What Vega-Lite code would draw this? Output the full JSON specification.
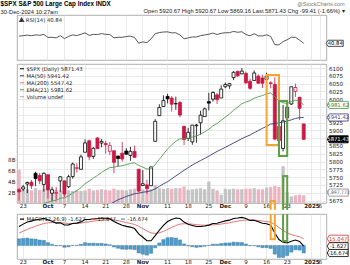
{
"$schema": "https://vega.github.io/schema/vega-lite/v6.json",
"padding": {"left": 0, "top": 1, "right": 1, "bottom": 0},
"background": "white",
"spacing": 0,
"resolve": {"scale": {"color": "independent"}, "legend": {"color": "independent"}},
"title": {"text": "$SPX S&P 500 Large Cap Index INDX", "subtitle": "30-Dec-2024 10:27am", "anchor": "start", "font": "Liberation Sans", "fontSize": 6.3, "fontWeight": "bold", "color": "#000", "subtitleFont": "Liberation Sans", "subtitleFontSize": 5.8, "subtitleColor": "#222", "subtitlePadding": 1, "offset": -13},
"datasets": {
"spx": [
{"d":"2024-09-20","o":5709.96,"h":5715.14,"l":5674.49,"c":5702.55,"p":5713.64,"v":6.0,"e":5609.3,"m":5517.9,"r":58.3,"md":42.4,"sg":27.6,"hs":14.8},
{"d":"2024-09-23","o":5711.90,"h":5725.36,"l":5704.94,"c":5718.57,"p":5702.55,"v":2.4,"e":5619.3,"m":5520.0,"r":59.6,"md":47.5,"sg":31.6,"hs":15.9},
{"d":"2024-09-24","o":5727.81,"h":5735.32,"l":5698.99,"c":5732.93,"p":5718.57,"v":2.5,"e":5629.6,"m":5522.0,"r":60.7,"md":52.1,"sg":35.7,"hs":16.4},
{"d":"2024-09-25","o":5733.65,"h":5741.03,"l":5712.06,"c":5722.26,"p":5732.93,"v":2.3,"e":5638.0,"m":5523.1,"r":59.4,"md":54.2,"sg":39.4,"hs":14.8},
{"d":"2024-09-26","o":5762.22,"h":5767.37,"l":5721.01,"c":5745.37,"p":5722.26,"v":2.7,"e":5647.8,"m":5526.2,"r":61.4,"md":57.1,"sg":42.9,"hs":14.2},
{"d":"2024-09-27","o":5755.36,"h":5763.78,"l":5727.34,"c":5738.17,"p":5745.37,"v":2.4,"e":5656.0,"m":5530.1,"r":60.4,"md":58.2,"sg":46.0,"hs":12.2},
{"d":"2024-09-30","o":5726.52,"h":5765.14,"l":5703.53,"c":5762.48,"p":5738.17,"v":2.6,"e":5665.7,"m":5535.3,"r":62.6,"md":60.3,"sg":48.9,"hs":11.4},
{"d":"2024-10-01","o":5757.73,"h":5757.73,"l":5681.28,"c":5708.75,"p":5762.48,"v":2.9,"e":5669.6,"m":5538.2,"r":55.3,"md":57.0,"sg":50.5,"hs":6.5},
{"d":"2024-10-02","o":5698.19,"h":5719.14,"l":5674.00,"c":5709.54,"p":5708.75,"v":2.3,"e":5673.2,"m":5541.2,"r":55.4,"md":53.7,"sg":51.1,"hs":2.6},
{"d":"2024-10-03","o":5698.56,"h":5718.78,"l":5677.89,"c":5699.94,"p":5709.54,"v":2.4,"e":5675.6,"m":5546.7,"r":54.1,"md":49.8,"sg":50.8,"hs":-1.0},
{"d":"2024-10-04","o":5737.80,"h":5753.92,"l":5702.83,"c":5751.07,"p":5699.94,"v":2.3,"e":5682.5,"m":5553.7,"r":59.5,"md":50.3,"sg":50.7,"hs":-0.4},
{"d":"2024-10-07","o":5737.80,"h":5739.34,"l":5686.85,"c":5695.94,"p":5751.07,"v":2.3,"e":5683.7,"m":5558.5,"r":52.3,"md":45.7,"sg":49.7,"hs":-4.0},
{"d":"2024-10-08","o":5719.14,"h":5757.60,"l":5714.56,"c":5751.13,"p":5695.94,"v":2.3,"e":5689.8,"m":5564.2,"r":57.8,"md":45.9,"sg":48.9,"hs":-3.0},
{"d":"2024-10-09","o":5751.80,"h":5796.80,"l":5745.02,"c":5792.04,"p":5751.13,"v":2.2,"e":5699.1,"m":5571.3,"r":61.4,"md":48.9,"sg":48.9,"hs":0.0},
{"d":"2024-10-10","o":5778.36,"h":5795.03,"l":5764.76,"c":5780.05,"p":5792.04,"v":2.3,"e":5706.5,"m":5576.5,"r":59.8,"md":49.7,"sg":49.1,"hs":0.6},
{"d":"2024-10-11","o":5775.09,"h":5822.13,"l":5775.09,"c":5815.03,"p":5780.05,"v":2.2,"e":5716.4,"m":5583.9,"r":62.8,"md":52.5,"sg":49.8,"hs":2.7},
{"d":"2024-10-14","o":5829.81,"h":5871.41,"l":5829.81,"c":5859.85,"p":5815.03,"v":2.3,"e":5729.4,"m":5594.1,"r":66.3,"md":57.8,"sg":51.4,"hs":6.4},
{"d":"2024-10-15","o":5866.74,"h":5870.36,"l":5804.48,"c":5815.26,"p":5859.85,"v":2.6,"e":5737.2,"m":5606.7,"r":60.2,"md":57.7,"sg":52.7,"hs":5.0},
{"d":"2024-10-16","o":5816.58,"h":5846.52,"l":5808.34,"c":5842.47,"p":5815.26,"v":2.3,"e":5746.8,"m":5618.8,"r":62.5,"md":59.2,"sg":54.0,"hs":5.2},
{"d":"2024-10-17","o":5875.62,"h":5878.46,"l":5840.25,"c":5841.47,"p":5842.47,"v":2.4,"e":5755.4,"m":5631.6,"r":62.4,"md":59.5,"sg":55.1,"hs":4.4},
{"d":"2024-10-18","o":5859.43,"h":5872.17,"l":5846.11,"c":5864.67,"p":5841.47,"v":2.5,"e":5765.3,"m":5642.5,"r":64.4,"md":61.0,"sg":56.3,"hs":4.7},
{"d":"2024-10-21","o":5857.82,"h":5866.92,"l":5824.80,"c":5853.98,"p":5864.67,"v":2.4,"e":5773.4,"m":5652.7,"r":62.7,"md":60.6,"sg":57.2,"hs":3.4},
{"d":"2024-10-22","o":5832.70,"h":5863.04,"l":5821.17,"c":5851.20,"p":5853.98,"v":2.3,"e":5780.5,"m":5662.9,"r":62.3,"md":59.3,"sg":57.6,"hs":1.7},
{"d":"2024-10-23","o":5834.50,"h":5834.85,"l":5762.41,"c":5797.42,"p":5851.20,"v":2.6,"e":5782.0,"m":5670.2,"r":54.2,"md":53.3,"sg":56.7,"hs":-3.4},
{"d":"2024-10-24","o":5817.80,"h":5817.80,"l":5784.92,"c":5809.86,"p":5797.42,"v":2.4,"e":5784.5,"m":5677.3,"r":55.6,"md":49.0,"sg":55.2,"hs":-6.2},
{"d":"2024-10-25","o":5826.75,"h":5862.82,"l":5799.98,"c":5808.12,"p":5809.86,"v":2.4,"e":5786.6,"m":5682.6,"r":55.4,"md":44.9,"sg":53.1,"hs":-8.2},
{"d":"2024-10-28","o":5833.93,"h":5842.92,"l":5823.08,"c":5823.52,"p":5808.12,"v":2.3,"e":5790.0,"m":5688.0,"r":57.3,"md":42.5,"sg":51.0,"hs":-8.5},
{"d":"2024-10-29","o":5819.68,"h":5847.19,"l":5802.19,"c":5832.92,"p":5823.52,"v":2.5,"e":5793.9,"m":5692.5,"r":58.4,"md":40.9,"sg":49.0,"hs":-8.1},
{"d":"2024-10-30","o":5832.65,"h":5850.94,"l":5811.28,"c":5813.67,"p":5832.92,"v":2.6,"e":5795.7,"m":5696.8,"r":55.1,"md":37.6,"sg":46.7,"hs":-9.1},
{"d":"2024-10-31","o":5775.34,"h":5775.34,"l":5703.22,"c":5705.45,"p":5813.67,"v":3.0,"e":5787.5,"m":5698.5,"r":41.0,"md":25.9,"sg":42.5,"hs":-16.6},
{"d":"2024-11-01","o":5723.22,"h":5772.52,"l":5723.22,"c":5728.80,"p":5705.45,"v":2.5,"e":5782.2,"m":5701.7,"r":44.3,"md":18.3,"sg":37.7,"hs":-19.4},
{"d":"2024-11-04","o":5725.15,"h":5741.43,"l":5696.51,"c":5712.69,"p":5728.80,"v":2.4,"e":5775.9,"m":5703.2,"r":42.5,"md":10.9,"sg":32.3,"hs":-21.4},
{"d":"2024-11-05","o":5722.43,"h":5783.44,"l":5722.10,"c":5782.76,"p":5712.69,"v":2.5,"e":5776.5,"m":5706.6,"r":51.6,"md":10.5,"sg":28.0,"hs":-17.5},
{"d":"2024-11-06","o":5864.89,"h":5936.14,"l":5864.89,"c":5929.04,"p":5782.76,"v":3.3,"e":5790.4,"m":5712.6,"r":64.3,"md":21.8,"sg":26.8,"hs":-5.0},
{"d":"2024-11-07","o":5947.21,"h":5983.84,"l":5947.21,"c":5973.10,"p":5929.04,"v":2.7,"e":5807.0,"m":5720.3,"r":67.1,"md":33.9,"sg":28.2,"hs":5.7},
{"d":"2024-11-08","o":5976.76,"h":6012.45,"l":5976.76,"c":5995.54,"p":5973.10,"v":2.6,"e":5824.1,"m":5728.3,"r":68.4,"md":44.7,"sg":31.5,"hs":13.2},
{"d":"2024-11-11","o":6008.86,"h":6017.31,"l":5986.69,"c":6001.35,"p":5995.54,"v":2.7,"e":5840.2,"m":5735.4,"r":68.8,"md":53.2,"sg":35.8,"hs":17.4},
{"d":"2024-11-12","o":6003.60,"h":6009.92,"l":5960.08,"c":5983.99,"p":6001.35,"v":2.6,"e":5853.3,"m":5744.5,"r":66.4,"md":57.9,"sg":40.2,"hs":17.7},
{"d":"2024-11-13","o":5985.75,"h":6008.19,"l":5965.91,"c":5985.38,"p":5983.99,"v":2.7,"e":5865.3,"m":5753.8,"r":66.5,"md":61.0,"sg":44.4,"hs":16.6},
{"d":"2024-11-14","o":5989.58,"h":5993.88,"l":5942.28,"c":5949.17,"p":5985.38,"v":2.7,"e":5872.9,"m":5762.8,"r":61.3,"md":59.9,"sg":47.5,"hs":12.4},
{"d":"2024-11-15","o":5912.79,"h":5915.26,"l":5853.01,"c":5870.62,"p":5949.17,"v":3.0,"e":5872.7,"m":5772.0,"r":51.8,"md":52.0,"sg":48.4,"hs":3.6},
{"d":"2024-11-18","o":5874.17,"h":5908.12,"l":5865.95,"c":5893.62,"p":5870.62,"v":2.4,"e":5874.6,"m":5780.5,"r":54.0,"md":47.1,"sg":48.1,"hs":-1.0},
{"d":"2024-11-19","o":5863.04,"h":5917.00,"l":5853.86,"c":5916.98,"p":5893.62,"v":2.5,"e":5878.5,"m":5788.9,"r":56.3,"md":44.6,"sg":47.4,"hs":-2.8},
{"d":"2024-11-20","o":5914.95,"h":5920.67,"l":5860.58,"c":5917.11,"p":5916.98,"v":2.6,"e":5882.0,"m":5796.2,"r":56.3,"md":42.1,"sg":46.3,"hs":-4.2},
{"d":"2024-11-21","o":5924.37,"h":5963.32,"l":5885.71,"c":5948.71,"p":5917.11,"v":2.7,"e":5888.1,"m":5803.2,"r":59.4,"md":42.2,"sg":45.5,"hs":-3.3},
{"d":"2024-11-22","o":5944.36,"h":5972.90,"l":5944.36,"c":5969.34,"p":5948.71,"v":2.5,"e":5895.5,"m":5810.1,"r":61.3,"md":43.4,"sg":45.1,"hs":-1.7},
{"d":"2024-11-25","o":5992.28,"h":6020.75,"l":5963.91,"c":5987.37,"p":5969.34,"v":3.9,"e":5903.9,"m":5817.2,"r":62.9,"md":45.3,"sg":45.1,"hs":0.2},
{"d":"2024-11-26","o":6000.03,"h":6025.42,"l":5992.27,"c":6021.63,"p":5987.37,"v":2.6,"e":5914.6,"m":5824.9,"r":65.9,"md":49.0,"sg":45.9,"hs":3.1},
{"d":"2024-11-27","o":6014.11,"h":6020.16,"l":5984.87,"c":5998.74,"p":6021.63,"v":2.3,"e":5922.2,"m":5832.5,"r":62.3,"md":49.5,"sg":46.6,"hs":2.9},
{"d":"2024-11-29","o":6003.98,"h":6044.17,"l":6003.98,"c":6032.38,"p":5998.74,"v":1.5,"e":5932.2,"m":5838.9,"r":65.3,"md":52.1,"sg":47.7,"hs":4.4},
{"d":"2024-12-02","o":6040.11,"h":6053.58,"l":6035.33,"c":6047.15,"p":6032.38,"v":2.6,"e":5942.7,"m":5845.8,"r":66.6,"md":54.7,"sg":49.1,"hs":5.6},
{"d":"2024-12-03","o":6042.97,"h":6052.59,"l":6033.39,"c":6049.88,"p":6047.15,"v":2.5,"e":5952.4,"m":5852.4,"r":66.8,"md":56.3,"sg":50.5,"hs":5.8},
{"d":"2024-12-04","o":6069.39,"h":6089.84,"l":6061.06,"c":6086.49,"p":6049.88,"v":2.6,"e":5964.6,"m":5859.5,"r":69.9,"md":59.9,"sg":52.4,"hs":7.5},
{"d":"2024-12-05","o":6089.03,"h":6092.35,"l":6070.95,"c":6075.11,"p":6086.49,"v":2.5,"e":5974.6,"m":5866.5,"r":67.8,"md":61.0,"sg":54.1,"hs":6.9},
{"d":"2024-12-06","o":6081.38,"h":6099.97,"l":6079.98,"c":6090.27,"p":6075.11,"v":2.5,"e":5985.1,"m":5873.4,"r":69.1,"md":62.4,"sg":55.8,"hs":6.6},
{"d":"2024-12-09","o":6083.01,"h":6088.51,"l":6048.63,"c":6052.85,"p":6090.27,"v":2.6,"e":5991.3,"m":5879.7,"r":62.2,"md":59.9,"sg":56.6,"hs":3.3},
{"d":"2024-12-10","o":6057.59,"h":6065.40,"l":6029.89,"c":6034.91,"p":6052.85,"v":2.6,"e":5995.3,"m":5885.2,"r":59.2,"md":55.8,"sg":56.4,"hs":-0.6},
{"d":"2024-12-11","o":6060.16,"h":6092.59,"l":6060.16,"c":6084.19,"p":6034.91,"v":2.7,"e":6003.4,"m":5892.7,"r":64.4,"md":55.9,"sg":56.3,"hs":-0.4},
{"d":"2024-12-12","o":6074.29,"h":6079.68,"l":6051.25,"c":6051.25,"p":6084.19,"v":2.5,"e":6007.8,"m":5899.5,"r":59.0,"md":52.7,"sg":55.6,"hs":-2.9},
{"d":"2024-12-13","o":6068.17,"h":6078.58,"l":6035.77,"c":6051.09,"p":6051.25,"v":2.5,"e":6011.7,"m":5906.5,"r":58.9,"md":49.6,"sg":54.4,"hs":-4.8},
{"d":"2024-12-16","o":6063.79,"h":6085.19,"l":6059.14,"c":6074.08,"p":6051.09,"v":2.8,"e":6017.4,"m":5913.0,"r":61.5,"md":48.4,"sg":53.2,"hs":-4.8},
{"d":"2024-12-17","o":6052.55,"h":6057.68,"l":6035.19,"c":6050.61,"p":6074.08,"v":2.9,"e":6020.4,"m":5920.1,"r":57.5,"md":45.0,"sg":51.6,"hs":-6.6},
{"d":"2024-12-18","o":6047.65,"h":6070.67,"l":5867.79,"c":5872.16,"p":6050.61,"v":3.1,"e":6006.9,"m":5922.5,"r":37.5,"md":27.6,"sg":46.8,"hs":-19.2},
{"d":"2024-12-19","o":5912.71,"h":5935.52,"l":5866.07,"c":5867.08,"p":5872.16,"v":2.9,"e":5994.2,"m":5924.0,"r":37.1,"md":13.3,"sg":40.1,"hs":-26.8},
{"d":"2024-12-20","o":5842.00,"h":5982.06,"l":5832.30,"c":5930.85,"p":5867.08,"v":6.7,"e":5988.4,"m":5927.0,"r":45.0,"md":7.0,"sg":33.5,"hs":-26.5},
{"d":"2024-12-23","o":5940.25,"h":5978.25,"l":5902.57,"c":5974.07,"p":5930.85,"v":2.0,"e":5987.1,"m":5930.2,"r":49.6,"md":5.5,"sg":27.9,"hs":-22.4},
{"d":"2024-12-24","o":5984.74,"h":6040.10,"l":5981.44,"c":6040.04,"p":5974.07,"v":1.2,"e":5991.9,"m":5933.8,"r":55.6,"md":9.4,"sg":24.2,"hs":-14.8},
{"d":"2024-12-26","o":6024.97,"h":6049.75,"l":6007.37,"c":6037.59,"p":6040.04,"v":1.4,"e":5996.1,"m":5938.3,"r":55.4,"md":12.2,"sg":21.8,"hs":-9.6},
{"d":"2024-12-27","o":6006.17,"h":6006.17,"l":5932.95,"c":5970.84,"p":6037.59,"v":1.5,"e":5993.8,"m":5940.8,"r":48.5,"md":8.9,"sg":19.2,"hs":-10.3},
{"d":"2024-12-30","o":5920.67,"h":5920.67,"l":5869.16,"c":5871.43,"p":5970.84,"v":1.4,"e":5981.62,"m":5941.42,"r":40.84,"md":-1.627,"sg":15.047,"hs":-16.674}
],
"boxes": [
{"d":"2024-12-16","d2":"2024-12-19","lo":5853,"hi":6078,"g":1},
{"d":"2024-12-19","d2":"2024-12-23","lo":5818,"hi":5994,"g":2}
],
"vboxes": [
{"d":"2024-12-17","d2":"2024-12-18","lo":-1.25,"hi":0.36,"g":1},
{"d":"2024-12-20","d2":"2024-12-23","lo":-1.25,"hi":4.9,"g":2}
],
"mboxes": [
{"d":"2024-12-17","d2":"2024-12-18","lo":14,"hi":70,"g":1},
{"d":"2024-12-20","d2":"2024-12-23","lo":10,"hi":70,"g":2}
],
"ptags": [
{"d":"2024-12-30","v":5981.62,"t":"5981.62","k":"e"},
{"d":"2024-12-30","v":5941.42,"t":"5941.42","k":"m"},
{"d":"2024-12-30","v":5871.43,"t":"5871.43","k":"c"}
],
"vtags": [{"d":"2024-12-30","v":1.9,"t":"1,897,772"}],
"rtags": [{"d":"2024-12-30","v":40.84,"t":"40.84"}],
"mtags": [
{"d":"2024-12-30","v":15.047,"t":"15.047","k":"s"},
{"d":"2024-12-30","v":-1.627,"t":"-1.627","k":"m"},
{"d":"2024-12-30","v":-16.674,"t":"-16.674","k":"h"}
]
},
"data": {"name": "spx"},
"vconcat": [
{
"width": 309.4, "height": 45,
"title": {"text": "@StockCharts.com", "subtitle": "Open 5920.67 High 5920.67 Low 5869.16 Last 5871.43 Chg -99.41 (-1.66%) ▾", "anchor": "end", "font": "Liberation Sans", "fontSize": 5.5, "fontWeight": "normal", "color": "#777", "subtitleFont": "Liberation Sans", "subtitleFontSize": 5.8, "subtitleColor": "#222", "subtitlePadding": 1, "offset": 1},
"encoding": {"x": {"field": "d", "type": "ordinal", "scale": {"type": "band", "paddingInner": 0, "paddingOuter": 0, "domain": ["2024-09-20","2024-09-23","2024-09-24","2024-09-25","2024-09-26","2024-09-27","2024-09-30","2024-10-01","2024-10-02","2024-10-03","2024-10-04","2024-10-07","2024-10-08","2024-10-09","2024-10-10","2024-10-11","2024-10-14","2024-10-15","2024-10-16","2024-10-17","2024-10-18","2024-10-21","2024-10-22","2024-10-23","2024-10-24","2024-10-25","2024-10-28","2024-10-29","2024-10-30","2024-10-31","2024-11-01","2024-11-04","2024-11-05","2024-11-06","2024-11-07","2024-11-08","2024-11-11","2024-11-12","2024-11-13","2024-11-14","2024-11-15","2024-11-18","2024-11-19","2024-11-20","2024-11-21","2024-11-22","2024-11-25","2024-11-26","2024-11-27","2024-11-29","2024-12-02","2024-12-03","2024-12-04","2024-12-05","2024-12-06","2024-12-09","2024-12-10","2024-12-11","2024-12-12","2024-12-13","2024-12-16","2024-12-17","2024-12-18","2024-12-19","2024-12-20","2024-12-23","2024-12-24","2024-12-26","2024-12-27","2024-12-30","2024-12-31","2025-01-02","2025-01-03","2025-01-06","2025-01-07"]},
  "axis": {"values": ["2024-09-23","2024-10-01","2024-10-07","2024-10-14","2024-10-21","2024-10-28","2024-11-01","2024-11-11","2024-11-18","2024-11-25","2024-12-02","2024-12-09","2024-12-16","2024-12-23","2025-01-02","2025-01-06"], "labels": false, "grid": true, "title": null, "minExtent": 2.5}}},
"layer": [
{"mark": {"type": "line", "strokeWidth": 0.9, "clip": true},
 "encoding": {"y": {"field": "r", "type": "quantitative", "scale": {"domain": [0, 110], "nice": false},
   "axis": {"orient": "right", "values": [10, 30, 50, 70, 90], "grid": true, "title": null,
     "gridColor": {"condition": {"test": "datum.value==70||datum.value==30||datum.value==50", "value": "#8c8c8c"}, "value": "#e0e0e0"},
     "gridDash": {"condition": {"test": "datum.value==50", "value": [2, 2]}, "value": []}}},
  "color": {"datum": "RSI(14) 40.84", "scale": {"domain": ["RSI(14) 40.84"], "range": ["#444444"]},
   "legend": {"title": null, "orient": "top-left", "symbolType": "triangle-up", "symbolSize": 14, "symbolFillColor": "#000"}}}},
{"data": {"name": "rtags"},
 "mark": {"type": "point", "shape": "M-1,0L-0.78,-0.36L1,-0.36L1,0.36L-0.78,0.36Z", "size": 290, "filled": true, "fill": "#fff", "stroke": "#000", "strokeWidth": 0.7, "opacity": 1, "xOffset": 31},
 "encoding": {"y": {"field": "v", "type": "quantitative", "scale": {"domain": [0, 110], "nice": false}, "axis": null}}},
{"data": {"name": "rtags"},
 "mark": {"type": "text", "dx": 31.5, "fontSize": 5.3, "font": "DejaVu Sans", "fill": "#000", "align": "center", "baseline": "middle"},
 "encoding": {"y": {"field": "v", "type": "quantitative", "scale": {"domain": [0, 110], "nice": false}, "axis": null}, "text": {"field": "t"}}}
]
},
{
"width": 309.4, "height": 139,
"encoding": {"x": {"field": "d", "type": "ordinal", "scale": {"type": "band", "paddingInner": 0, "paddingOuter": 0, "domain": ["2024-09-20","2024-09-23","2024-09-24","2024-09-25","2024-09-26","2024-09-27","2024-09-30","2024-10-01","2024-10-02","2024-10-03","2024-10-04","2024-10-07","2024-10-08","2024-10-09","2024-10-10","2024-10-11","2024-10-14","2024-10-15","2024-10-16","2024-10-17","2024-10-18","2024-10-21","2024-10-22","2024-10-23","2024-10-24","2024-10-25","2024-10-28","2024-10-29","2024-10-30","2024-10-31","2024-11-01","2024-11-04","2024-11-05","2024-11-06","2024-11-07","2024-11-08","2024-11-11","2024-11-12","2024-11-13","2024-11-14","2024-11-15","2024-11-18","2024-11-19","2024-11-20","2024-11-21","2024-11-22","2024-11-25","2024-11-26","2024-11-27","2024-11-29","2024-12-02","2024-12-03","2024-12-04","2024-12-05","2024-12-06","2024-12-09","2024-12-10","2024-12-11","2024-12-12","2024-12-13","2024-12-16","2024-12-17","2024-12-18","2024-12-19","2024-12-20","2024-12-23","2024-12-24","2024-12-26","2024-12-27","2024-12-30","2024-12-31","2025-01-02","2025-01-03","2025-01-06","2025-01-07"]},
  "axis": {"values": ["2024-09-23","2024-10-01","2024-10-07","2024-10-14","2024-10-21","2024-10-28","2024-11-01","2024-11-11","2024-11-18","2024-11-25","2024-12-02","2024-12-09","2024-12-16","2024-12-23","2025-01-02","2025-01-06"], "grid": true, "title": null, "labelAngle": 0, "labelPadding": 1, "minExtent": 8,
   "labelExpr": "datum.value=='2024-10-01'?'Oct':datum.value=='2024-11-01'?'Nov':datum.value=='2024-12-02'?'Dec':datum.value=='2025-01-02'?'2025':''+toNumber(substring(datum.value,8,10))",
   "labelFontWeight": {"condition": {"test": "datum.value=='2024-10-01'||datum.value=='2024-11-01'||datum.value=='2024-12-02'||datum.value=='2025-01-02'", "value": "bold"}, "value": "normal"}}}},
"layer": [
 {"mark": {"type": "bar", "size": 3.3},
  "encoding": {"y": {"field": "v", "type": "quantitative", "scale": {"domain": [0, 25.3], "nice": false},
    "axis": {"orient": "left", "values": [2, 4, 6, 8], "labelExpr": "datum.value+'B'", "grid": false, "title": null, "minExtent": 16}},
   "fill": {"condition": {"test": "datum.c < datum.p", "value": "#eeb3c1"}, "value": "#c4c4c4"}}},
 {"data": {"name": "vboxes"},
  "transform": [{"fold": ["d", "d2"], "as": ["side", "d"]}],
  "mark": {"type": "rule", "strokeWidth": 2},
  "encoding": {"y": {"field": "lo", "type": "quantitative", "scale": {"domain": [0, 25.3], "nice": false}, "axis": null},
   "y2": {"field": "hi"},
   "stroke": {"condition": {"test": "datum.g==1", "value": "#f3a531"}, "value": "#5fa044"}}},
 {"data": {"name": "vboxes"},
  "mark": {"type": "rule", "strokeWidth": 2, "strokeCap": "square"},
  "encoding": {"x2": {"field": "d2"},
   "y": {"field": "hi", "type": "quantitative", "scale": {"domain": [0, 25.3], "nice": false}, "axis": null},
   "stroke": {"condition": {"test": "datum.g==1", "value": "#f3a531"}, "value": "#5fa044"}}},
 {"data": {"name": "vtags"},
  "mark": {"type": "point", "shape": "M-1,0L-0.8,-0.34L1,-0.34L1,0.34L-0.8,0.34Z", "size": 440, "filled": true, "fill": "#fff", "stroke": "#777", "strokeWidth": 0.7, "opacity": 1, "xOffset": 34},
  "encoding": {"y": {"field": "v", "type": "quantitative", "scale": {"domain": [0, 25.3], "nice": false}, "axis": null}}},
 {"data": {"name": "vtags"},
  "mark": {"type": "text", "dx": 34.5, "fontSize": 4.6, "font": "DejaVu Sans", "fill": "#555", "align": "center", "baseline": "middle"},
  "encoding": {"y": {"field": "v", "type": "quantitative", "scale": {"domain": [0, 25.3], "nice": false}, "axis": null}, "text": {"field": "t"}}},
 {"mark": {"type": "rule", "strokeWidth": 0.8},
  "encoding": {"y": {"field": "l", "type": "quantitative", "scale": {"domain": [5667, 6113], "nice": false},
    "axis": {"orient": "right", "values": [5675,5700,5725,5750,5775,5800,5825,5850,5875,5900,5925,5950,5975,6000,6025,6050,6075,6100], "grid": true, "title": null,
     "labelExpr": "indexof([5700,5875,5950,5975], datum.value) >= 0 ? '' : format(datum.value, 'd')"}},
   "y2": {"field": "h"},
   "stroke": {"condition": {"test": "datum.c < datum.p", "value": "#cc1844"}, "value": "#000000"}}},
 {"mark": {"type": "bar", "size": 3, "strokeWidth": 0.8},
  "encoding": {"y": {"field": "o", "type": "quantitative", "scale": {"domain": [5667, 6113], "nice": false}, "axis": null},
   "y2": {"field": "c"},
   "fill": {"condition": [{"test": "datum.c >= datum.o", "value": "#ffffff"}, {"test": "datum.c < datum.p", "value": "#cc1844"}], "value": "#000000"},
   "stroke": {"condition": {"test": "datum.c < datum.p", "value": "#cc1844"}, "value": "#000000"}}},
 {"mark": {"type": "line", "strokeWidth": 0.9, "clip": true},
  "encoding": {"y": {"field": "m", "type": "quantitative", "scale": {"domain": [5667, 6113], "nice": false}, "axis": null},
   "color": {"datum": "MA(50) 5941.42", "scale": {"domain": ["$SPX (Daily) 5871.43", "MA(50) 5941.42", "MA(200) 5547.42", "EMA(21) 5981.62", "Volume undef"], "range": ["#000000", "#3a3a7a", "#e0708f", "#4f9a4f", "#aaaaaa"]},
    "legend": {"title": null, "orient": "top-left", "symbolType": "stroke"}}}},
 {"mark": {"type": "line", "strokeWidth": 0.9, "clip": true},
  "encoding": {"y": {"field": "e", "type": "quantitative", "scale": {"domain": [5667, 6113], "nice": false}, "axis": null},
   "color": {"datum": "EMA(21) 5981.62", "scale": {"domain": ["$SPX (Daily) 5871.43", "MA(50) 5941.42", "MA(200) 5547.42", "EMA(21) 5981.62", "Volume undef"], "range": ["#000000", "#3a3a7a", "#e0708f", "#4f9a4f", "#aaaaaa"]},
    "legend": {"title": null, "orient": "top-left", "symbolType": "stroke"}}}},
 {"data": {"name": "boxes"},
  "mark": {"type": "rect", "filled": false, "strokeWidth": 2},
  "encoding": {"x2": {"field": "d2"},
   "y": {"field": "lo", "type": "quantitative", "scale": {"domain": [5667, 6113], "nice": false}, "axis": null},
   "y2": {"field": "hi"},
   "stroke": {"condition": {"test": "datum.g==1", "value": "#f3a531"}, "value": "#5fa044"}}},
 {"data": {"name": "ptags"},
  "mark": {"type": "point", "shape": "M-1,0L-0.8,-0.34L1,-0.34L1,0.34L-0.8,0.34Z", "size": 440, "filled": true, "strokeWidth": 0.8, "opacity": 1, "xOffset": 34},
  "encoding": {"y": {"field": "v", "type": "quantitative", "scale": {"domain": [5667, 6113], "nice": false}, "axis": null},
   "fill": {"condition": {"test": "datum.k=='c'", "value": "#000000"}, "value": "#ffffff"},
   "stroke": {"condition": [{"test": "datum.k=='e'", "value": "#4f9a4f"}, {"test": "datum.k=='m'", "value": "#3a3a7a"}], "value": "#000000"}}},
 {"data": {"name": "ptags"},
  "mark": {"type": "text", "dx": 34.5, "fontSize": 5.3, "font": "DejaVu Sans", "align": "center", "baseline": "middle"},
  "encoding": {"y": {"field": "v", "type": "quantitative", "scale": {"domain": [5667, 6113], "nice": false}, "axis": null},
   "text": {"field": "t"},
   "fill": {"condition": [{"test": "datum.k=='c'", "value": "#ffffff"}, {"test": "datum.k=='e'", "value": "#3d7f3d"}, {"test": "datum.k=='m'", "value": "#3a3a7a"}], "value": "#000000"}}}
],
"resolve": {"scale": {"y": "independent"}, "axis": {"y": "independent"}}
},
{
"width": 309.4, "height": 45,
"encoding": {"x": {"field": "d", "type": "ordinal", "scale": {"type": "band", "paddingInner": 0, "paddingOuter": 0, "domain": ["2024-09-20","2024-09-23","2024-09-24","2024-09-25","2024-09-26","2024-09-27","2024-09-30","2024-10-01","2024-10-02","2024-10-03","2024-10-04","2024-10-07","2024-10-08","2024-10-09","2024-10-10","2024-10-11","2024-10-14","2024-10-15","2024-10-16","2024-10-17","2024-10-18","2024-10-21","2024-10-22","2024-10-23","2024-10-24","2024-10-25","2024-10-28","2024-10-29","2024-10-30","2024-10-31","2024-11-01","2024-11-04","2024-11-05","2024-11-06","2024-11-07","2024-11-08","2024-11-11","2024-11-12","2024-11-13","2024-11-14","2024-11-15","2024-11-18","2024-11-19","2024-11-20","2024-11-21","2024-11-22","2024-11-25","2024-11-26","2024-11-27","2024-11-29","2024-12-02","2024-12-03","2024-12-04","2024-12-05","2024-12-06","2024-12-09","2024-12-10","2024-12-11","2024-12-12","2024-12-13","2024-12-16","2024-12-17","2024-12-18","2024-12-19","2024-12-20","2024-12-23","2024-12-24","2024-12-26","2024-12-27","2024-12-30","2024-12-31","2025-01-02","2025-01-03","2025-01-06","2025-01-07"]},
  "axis": {"values": ["2024-09-23","2024-10-01","2024-10-07","2024-10-14","2024-10-21","2024-10-28","2024-11-01","2024-11-11","2024-11-18","2024-11-25","2024-12-02","2024-12-09","2024-12-16","2024-12-23","2025-01-02","2025-01-06"], "grid": true, "title": null, "labelAngle": 0, "labelPadding": 1,
   "labelExpr": "datum.value=='2024-10-01'?'Oct':datum.value=='2024-11-01'?'Nov':datum.value=='2024-12-02'?'Dec':datum.value=='2025-01-02'?'2025':''+toNumber(substring(datum.value,8,10))",
   "labelFontWeight": {"condition": {"test": "datum.value=='2024-10-01'||datum.value=='2024-11-01'||datum.value=='2024-12-02'||datum.value=='2025-01-02'", "value": "bold"}, "value": "normal"}}}},
"layer": [
{"mark": {"type": "bar", "size": 3.3, "stroke": "#2f6f99", "strokeWidth": 0.4},
 "encoding": {"y": {"field": "hs", "type": "quantitative", "scale": {"domain": [-30, 70], "nice": false},
   "axis": {"orient": "right", "values": [-20, 0, 20, 40, 60], "labelExpr": "datum.value>=40?datum.label:''", "grid": true, "title": null}},
  "y2": {"datum": 0},
  "color": {"datum": "-16.674", "scale": {"domain": ["MACD(12,26,9) -1.627,", "15.047,", "-16.674"], "range": ["#000000", "#dd6666", "#4f9ccb"]},
   "legend": {"title": null, "orient": "top-left", "direction": "horizontal", "symbolType": "stroke", "columnPadding": 2,
    "encode": {"labels": {"update": {"fill": {"signal": "datum.value=='15.047,'?'#cc3333':datum.value=='-16.674'?'#3a8fb8':'#000000'"}}},
     "symbols": {"update": {"opacity": {"signal": "datum.value=='MACD(12,26,9) -1.627,'?1:0"}}}}}}}},
{"mark": {"type": "line", "strokeWidth": 0.9, "clip": true},
 "encoding": {"y": {"field": "sg", "type": "quantitative", "scale": {"domain": [-30, 70], "nice": false}, "axis": null},
  "color": {"datum": "15.047,", "scale": {"domain": ["MACD(12,26,9) -1.627,", "15.047,", "-16.674"], "range": ["#000000", "#dd6666", "#4f9ccb"]}, "legend": null}}},
{"mark": {"type": "line", "strokeWidth": 1.1, "clip": true},
 "encoding": {"y": {"field": "md", "type": "quantitative", "scale": {"domain": [-30, 70], "nice": false}, "axis": null},
  "color": {"datum": "MACD(12,26,9) -1.627,", "scale": {"domain": ["MACD(12,26,9) -1.627,", "15.047,", "-16.674"], "range": ["#000000", "#dd6666", "#4f9ccb"]}, "legend": null}}},
{"data": {"name": "mboxes"},
 "transform": [{"fold": ["d", "d2"], "as": ["side", "d"]}],
 "mark": {"type": "rule", "strokeWidth": 2},
 "encoding": {"y": {"field": "lo", "type": "quantitative", "scale": {"domain": [-30, 70], "nice": false}, "axis": null},
  "y2": {"field": "hi"},
  "stroke": {"condition": {"test": "datum.g==1", "value": "#f3a531"}, "value": "#5fa044"}}},
{"data": {"name": "mboxes"},
 "mark": {"type": "rule", "strokeWidth": 2, "strokeCap": "square"},
 "encoding": {"x2": {"field": "d2"},
  "y": {"field": "lo", "type": "quantitative", "scale": {"domain": [-30, 70], "nice": false}, "axis": null},
  "stroke": {"condition": {"test": "datum.g==1", "value": "#f3a531"}, "value": "#5fa044"}}},
{"data": {"name": "mtags"},
 "mark": {"type": "point", "shape": "M-1,0L-0.8,-0.34L1,-0.34L1,0.34L-0.8,0.34Z", "size": 440, "filled": true, "strokeWidth": 0.8, "opacity": 1, "xOffset": 34},
 "encoding": {"y": {"field": "v", "type": "quantitative", "scale": {"domain": [-30, 70], "nice": false}, "axis": null},
  "fill": {"value": "#ffffff"},
  "stroke": {"condition": {"test": "datum.k=='s'", "value": "#cc3333"}, "value": "#000000"}}},
{"data": {"name": "mtags"},
 "mark": {"type": "text", "dx": 34.5, "fontSize": 5.3, "font": "DejaVu Sans", "align": "center", "baseline": "middle"},
 "encoding": {"y": {"field": "v", "type": "quantitative", "scale": {"domain": [-30, 70], "nice": false}, "axis": null},
  "text": {"field": "t"},
  "fill": {"condition": {"test": "datum.k=='s'", "value": "#cc3333"}, "value": "#000000"}}}
]
}
],
"config": {
 "view": {"stroke": "#9a9a9a", "strokeWidth": 0.8},
 "font": "DejaVu Sans",
 "axis": {"labelFont": "DejaVu Sans", "labelFontSize": 5.6, "labelColor": "#222", "ticks": false, "domain": false, "gridColor": "#e0e0e0", "gridWidth": 0.7, "labelPadding": 2, "minExtent": 0},
 "legend": {"labelFont": "DejaVu Sans", "labelFontSize": 5.3, "labelColor": "#222", "rowPadding": -1.5, "clipHeight": 5.5, "padding": 1, "offset": 1, "symbolSize": 16, "symbolStrokeWidth": 1.2, "labelOffset": 1.5}
}
}
